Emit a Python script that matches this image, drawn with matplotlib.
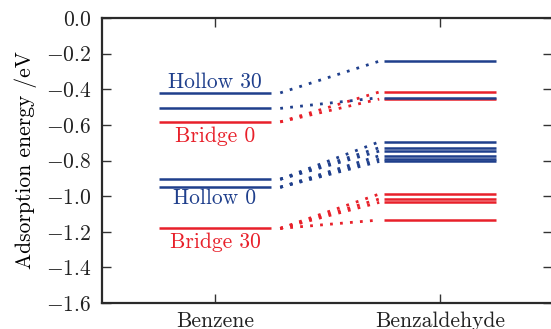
import matplotlib
matplotlib.use('Agg')
import matplotlib.pyplot as plt

plt.rcParams['font.family'] = 'serif'
plt.rcParams['font.serif'] = ['cmr10']
plt.rcParams['mathtext.fontset'] = 'cm'
plt.rcParams['axes.formatter.use_mathtext'] = True

blue = '#1f3f8c'
red = '#e8202a'

molecules = ['Benzene', 'Benzaldehyde']

# adsorption energies (eV)
benzene_blue = [-0.42, -0.507, -0.905, -0.95]
benzene_red = [-0.583, -1.181]
benzaldehyde_blue = [-0.242, -0.447, -0.695, -0.728, -0.747, -0.773, -0.792, -0.805]
benzaldehyde_red = [-0.415, -0.455, -0.988, -1.016, -1.035, -1.134]

# which benzene level each benzaldehyde level comes from
blue_links_from = [-0.42, -0.507, -0.905, -0.905, -0.905, -0.95, -0.95, -0.95]
blue_links_to = benzaldehyde_blue
red_links_from = [-0.583, -0.583, -1.181, -1.181, -1.181, -1.181]
red_links_to = benzaldehyde_red

site_labels = ['Hollow 30', 'Bridge 0', 'Hollow 0', 'Bridge 30']
site_label_y = [-0.36, -0.665, -1.01, -1.26]
site_label_colors = [blue, red, blue, red]

fig = plt.figure(figsize=(5.51, 3.29), dpi=100)
ax = fig.add_axes([0.186, 0.079, 0.8167, 0.866])

w = 0.25
for e in benzene_red:
    ax.plot([0 - w, 0 + w], [e, e], color=red, lw=1.8, solid_capstyle='butt')
for e in benzene_blue:
    ax.plot([0 - w, 0 + w], [e, e], color=blue, lw=1.8, solid_capstyle='butt')
for e in benzaldehyde_red:
    ax.plot([1 - w, 1 + w], [e, e], color=red, lw=1.8, solid_capstyle='butt')
for e in benzaldehyde_blue:
    ax.plot([1 - w, 1 + w], [e, e], color=blue, lw=1.8, solid_capstyle='butt')

for a, b in zip(red_links_from, red_links_to):
    ax.plot([0.29, 0.73], [a, b], color=red, lw=2.0, dashes=(1, 2.6))
for a, b in zip(blue_links_from, blue_links_to):
    ax.plot([0.29, 0.73], [a, b], color=blue, lw=2.0, dashes=(1, 2.6))

for txt, y, c in zip(site_labels, site_label_y, site_label_colors):
    ax.text(0, y, txt, color=c, fontsize=15.5, ha='center', va='center')

ax.set_xlim(-0.5, 1.5)
ax.set_ylim(-1.6, 0.0)
ax.set_xticks([0, 1])
ax.set_xticklabels(molecules)
ax.set_yticks([0.0, -0.2, -0.4, -0.6, -0.8, -1.0, -1.2, -1.4, -1.6])
ax.set_ylabel('Adsorption energy /eV', fontsize=15.5, labelpad=6)
ax.tick_params(direction='in', length=6.5, width=1, colors='#333333',
               labelcolor='#222222', labelsize=15.5, top=True, right=True)
ax.tick_params(axis='y', pad=8)
ax.tick_params(axis='x', pad=6)
for s in ax.spines.values():
    s.set_linewidth(1.6)
    s.set_color('#2a2a2a')

fig.savefig('out.png', dpi=100)
